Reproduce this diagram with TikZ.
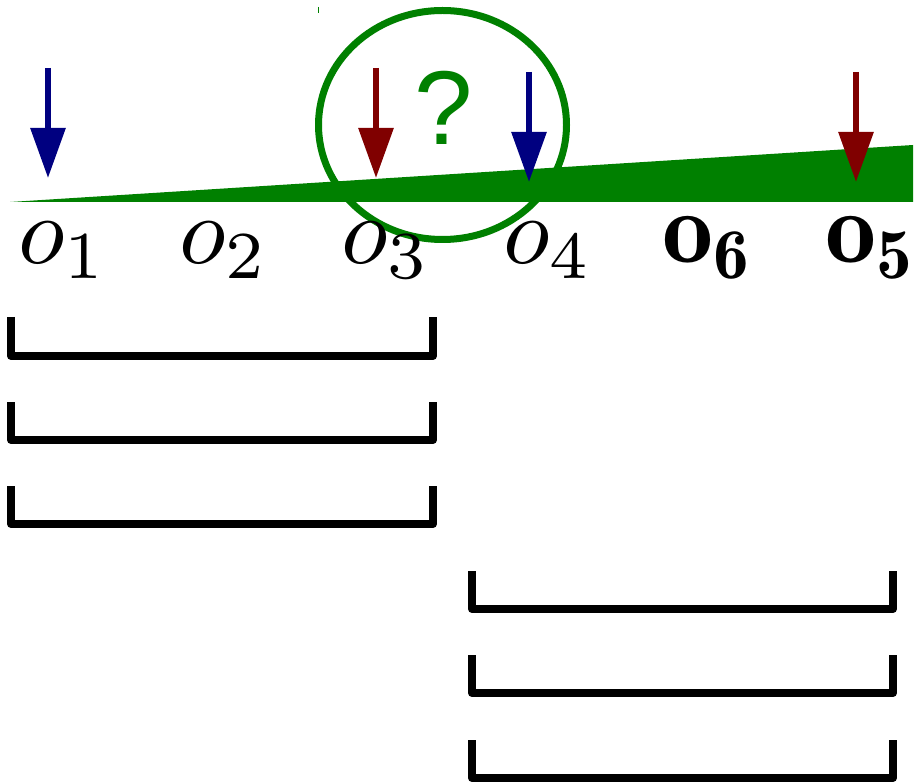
\documentclass[tikz,border=0pt]{standalone}
\usepackage{fontspec}
\newfontfamily\qfont{Liberation Sans}
\usetikzlibrary{arrows.meta}
\definecolor{wedgegreen}{RGB}{0,128,0}
\definecolor{navyblue}{RGB}{0,0,128}
\definecolor{maroonred}{RGB}{128,0,0}
\begin{document}
\begin{tikzpicture}[x=1pt,y=-1pt,
  droparrow/.style={line width=6pt, -{Triangle[length=50pt,width=34pt]}},
  objlabel/.style={anchor=base, scale=9.6, inner sep=0pt},
  boldlabel/.style={anchor=base, scale=10.2, inner sep=0pt},
  bracket/.style={line width=8pt, line join=round, line cap=butt}]
\useasboundingbox (0,0) rectangle (923,783);

% growing wedge along the sequence
\fill[wedgegreen] (10,202) -- (913,145) -- (913,202) -- cycle;

% uncertain region
\draw[wedgegreen, line width=7pt] (442.5,125) ellipse [x radius=124pt, y radius=114.5pt];
\node[anchor=base, scale=10.5, inner sep=0pt, text=wedgegreen] (q) at (444,145) {\qfont ?};
\draw[wedgegreen, line width=1pt] (318,7) -- (318,13);

% pointers
\draw[droparrow, navyblue] (48,68) -- (48,178);
\draw[droparrow, maroonred] (376,68) -- (376,178);
\draw[droparrow, navyblue] (529,72) -- (529,182);
\draw[droparrow, maroonred] (856,72) -- (856,182);

% object labels
\node[objlabel] (o1) at (63,264) {$o_1$};
\node[objlabel] (o2) at (224,264) {$o_2$};
\node[objlabel] (o3) at (386,264) {$o_3$};
\node[objlabel] (o4) at (548,264) {$o_4$};
\node[boldlabel] (o6) at (708,263) {$\mathbf{o_6}$};
\node[boldlabel] (o5) at (871,263) {$\mathbf{o_5}$};

% windows over the first three objects
\draw[bracket] (11,317) -- (11,356) -- (433,356) -- (433,317);
\draw[bracket] (11,402) -- (11,440) -- (433,440) -- (433,402);
\draw[bracket] (11,486) -- (11,524) -- (433,524) -- (433,486);

% windows over the last three objects
\draw[bracket] (472,571) -- (472,609) -- (893,609) -- (893,571);
\draw[bracket] (472,655) -- (472,693) -- (893,693) -- (893,655);
\draw[bracket] (472,740) -- (472,778) -- (893,778) -- (893,740);
\end{tikzpicture}
\end{document}
